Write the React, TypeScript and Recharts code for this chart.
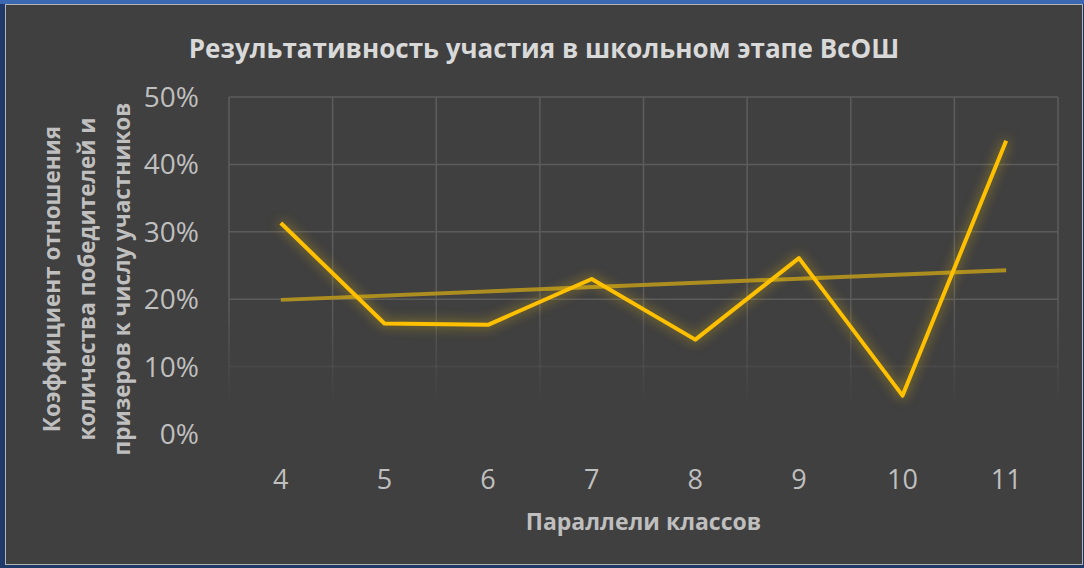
import React from 'react';
import { LineChart, Line, XAxis, YAxis, CartesianGrid } from 'recharts';

// школьный этап ВсОШ, доля победителей и призеров по параллелям
const grades = ['4', '5', '6', '7', '8', '9', '10', '11'];
const resultShare = [0.313, 0.164, 0.162, 0.23, 0.14, 0.261, 0.057, 0.435];
// линейный тренд (Excel), читаются только концы
const trendShare = [0.199, null, null, null, null, null, null, 0.243];
const yTicks = [0, 0.1, 0.2, 0.3, 0.4, 0.5];

const data = grades.map((g, i) => ({
  grade: g,
  share: resultShare[i],
  trend: trendShare[i],
}));

const FONT = '"Open Sans", sans-serif';

export default function App() {
  return (
    <div
      style={{
        position: 'fixed',
        left: 0,
        top: 0,
        width: 1084,
        height: 568,
        background: '#1f3a68',
        fontFamily: FONT,
        overflow: 'hidden',
      }}
    >
      <style>{`.glow-line { filter: drop-shadow(0 0 6px rgba(255, 205, 0, 0.6)); }`}</style>
      <div style={{ position: 'absolute', left: 0, top: 0, width: 1084, height: 4, background: '#3b68b0' }} />
      <div
        style={{
          position: 'absolute',
          left: 5,
          top: 4,
          width: 1076,
          height: 559,
          background: '#404040',
          border: '1px solid #b4b4b4',
        }}
      >
        <LineChart
          width={1076}
          height={559}
          data={data}
          margin={{ top: 92, right: 24, left: 0, bottom: 80 }}
        >
          <defs>
            <linearGradient id="gridFade" gradientUnits="userSpaceOnUse" x1="0" y1="92" x2="0" y2="400">
              <stop offset="0%" stopColor="#5c5c5c" stopOpacity={1} />
              <stop offset="65%" stopColor="#5c5c5c" stopOpacity={1} />
              <stop offset="100%" stopColor="#5c5c5c" stopOpacity={0} />
            </linearGradient>
          </defs>
          <CartesianGrid
            stroke="url(#gridFade)"
            strokeWidth={1.5}
            verticalCoordinatesGenerator={({ offset }: any) =>
              grades.map((_, i) => offset.left + (offset.width * i) / grades.length).concat(offset.left + offset.width)
            }
          />
          <XAxis
            dataKey="grade"
            scale="band"
            axisLine={false}
            tickLine={false}
            tickSize={0}
            tickMargin={36}
            height={50}
            interval={0}
            tick={{ fill: '#bfbfbf', fontSize: 27, fontFamily: FONT }}
          />
          <YAxis
            domain={[0, 0.5]}
            ticks={yTicks}
            width={223}
            axisLine={false}
            tickLine={false}
            tickSize={0}
            tickMargin={30}
            tickFormatter={(v: number) => `${Math.round(v * 100)}%`}
            tick={{ fill: '#bfbfbf', fontSize: 28, fontFamily: FONT }}
          />
          <Line
            dataKey="trend"
            stroke="#b8961c"
            strokeWidth={4}
            strokeOpacity={0.9}
            dot={false}
            connectNulls
            isAnimationActive={false}
          />
          <Line
            className="glow-line"
            dataKey="share"
            stroke="#ffc000"
            strokeWidth={4}
            strokeLinejoin="round"
            dot={false}
            isAnimationActive={false}
          />
        </LineChart>

        <div
          style={{
            position: 'absolute',
            left: 0,
            top: 25,
            width: 1076,
            textAlign: 'center',
            color: '#d9d9d9',
            fontSize: 26,
            fontWeight: 700,
          }}
        >
          Результативность участия в школьном этапе ВсОШ
        </div>

        <div
          style={{
            position: 'absolute',
            left: 223,
            top: 500,
            width: 829,
            textAlign: 'center',
            color: '#bfbfbf',
            fontSize: 23,
            fontWeight: 700,
          }}
        >
          Параллели классов
        </div>

        <div
          style={{
            position: 'absolute',
            left: 80 - 200,
            top: 274 - 55,
            width: 400,
            height: 110,
            transform: 'rotate(-90deg)',
            textAlign: 'center',
            color: '#bfbfbf',
            fontSize: 22.5,
            fontWeight: 700,
            lineHeight: '35px',
            display: 'flex',
            flexDirection: 'column',
            justifyContent: 'center',
          }}
        >
          <div>Коэффициент отношения</div>
          <div>количества победителей и</div>
          <div>призеров к числу участников</div>
        </div>
      </div>
    </div>
  );
}
